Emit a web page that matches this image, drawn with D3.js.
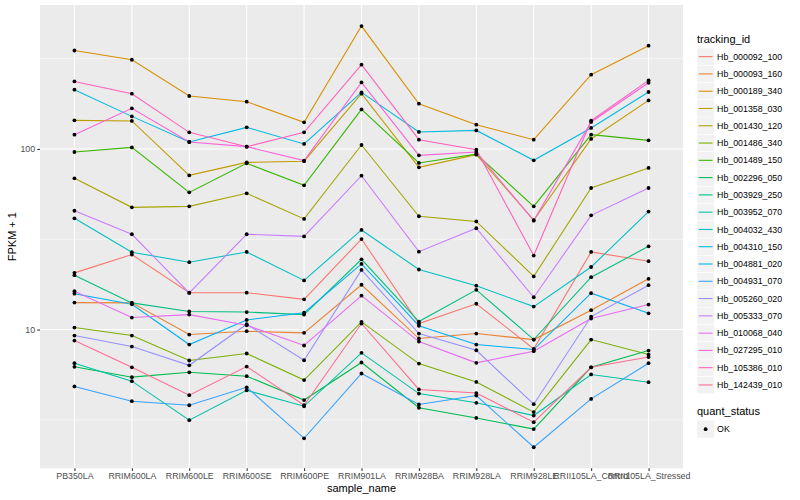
<!DOCTYPE html>
<html>
<head>
<meta charset="utf-8">
<script src="https://cdn.jsdelivr.net/npm/d3@7"></script>
<style>
  body { margin: 0; background: #fff; }
  #root { width: 800px; height: 500px; }
  text { font-family: "Liberation Sans", Arial, sans-serif; }
</style>
</head>
<body>
<div id="root"></div>
<script>
const samples = ['PB350LA', 'RRIM600LA', 'RRIM600LE', 'RRIM600SE', 'RRIM600PE',
  'RRIM901LA', 'RRIM928BA', 'RRIM928LA', 'RRIM928LE', 'RRII105LA_Control',
  'RRII105LA_Stressed'];

const trackingIds = ['Hb_000092_100', 'Hb_000093_160', 'Hb_000189_340',
  'Hb_001358_030', 'Hb_001430_120', 'Hb_001486_340', 'Hb_001489_150',
  'Hb_002296_050', 'Hb_003929_250', 'Hb_003952_070', 'Hb_004032_430',
  'Hb_004310_150', 'Hb_004881_020', 'Hb_004931_070', 'Hb_005260_020',
  'Hb_005333_070', 'Hb_010068_040', 'Hb_027295_010', 'Hb_105386_010',
  'Hb_142439_010'];

// FPKM + 1, one row per tracking id, one value per sample
const fpkmPlusOne = [
  [20.6, 26.0, 16.0, 16.0, 14.7, 31.7, 10.8, 13.9, 7.82, 26.9, 23.9],
  [14.1, 14.05, 9.38, 9.79, 9.59, 17.7, 8.92, 9.5, 8.8, 12.8, 19.1],
  [351, 312, 196.5, 182.7, 140.4, 479.3, 178.1, 136.3, 112.6, 257.8, 373],
  [144, 142.9, 71.4, 84.3, 85.6, 202.3, 79.1, 93, 40.4, 113.6, 185.8],
  [68.8, 47.5, 48.1, 56.8, 41.0, 105.2, 42.4, 39.7, 19.7, 60.8, 78.5],
  [10.26, 9.26, 6.74, 7.37, 5.25, 11.03, 6.48, 5.13, 3.49, 8.8, 7.27],
  [96.2, 102, 57.5, 83.3, 62.9, 165.6, 83.7, 93.6, 48.1, 120, 111.6],
  [6.22, 5.45, 5.8, 5.52, 4.07, 6.57, 3.69, 3.24, 2.81, 6.18, 7.65],
  [20.0, 14.05, 12.6, 12.5, 12.1, 24.5, 11.07, 16.6, 8.8, 19.5, 28.9],
  [6.51, 5.18, 3.15, 4.61, 3.76, 7.43, 4.42, 3.93, 3.34, 5.64, 5.11],
  [41.3, 26.8, 23.6, 26.9, 18.7, 35.6, 21.5, 17.5, 13.4, 22.2, 45],
  [212.9, 151.5, 109.3, 131.7, 106.6, 205.7, 124.2, 126.7, 86.5, 130.7, 206.8],
  [15.8, 13.8, 8.26, 11.3, 12.4, 23.1, 10.5, 8.26, 7.75, 15.9, 12.3],
  [4.84, 4.01, 3.81, 4.79, 2.5, 5.71, 3.85, 4.31, 2.23, 4.13, 6.51],
  [9.26, 8.05, 6.34, 10.7, 6.76, 21.4, 9.5, 7.68, 3.86, 11.8, 17.6],
  [45.5, 33.7, 15.96, 33.7, 32.8, 71.1, 27, 36.4, 15.1, 42.9, 60.8],
  [16.3, 11.65, 12.1, 10.56, 8.16, 15.4, 8.58, 6.54, 7.59, 11.5, 13.75],
  [120, 167.8, 109.3, 103, 86.2, 233.6, 92.2, 96.2, 40.1, 141.1, 232.7],
  [236.6, 202.3, 123.6, 103, 123.6, 292.8, 112.6, 99.1, 25.7, 143.4, 239.7],
  [8.69, 6.18, 4.33, 6.24, 3.81, 10.8, 4.66, 4.45, 3.07, 6.18, 7.04],
];

const yBreaks = [10, 100];
const yMinorBreaks = [Math.sqrt(10), Math.sqrt(1000), Math.sqrt(100000)];

const hueColors = ['#F8766D', '#EA8331', '#D89000', '#C09B00', '#A3A500',
  '#7CAE00', '#39B600', '#00BB4E', '#00BF7D', '#00C1A3', '#00BFC4', '#00BAE0',
  '#00B0F6', '#35A2FF', '#9590FF', '#C77CFF', '#E76BF3', '#FA62DB', '#FF62BC',
  '#FF6C91'];

doVis();

function doVis() {
  const width = 800, height = 500;
  const panel = { left: 40, top: 5, right: 683, bottom: 468.3 };

  const svg = d3.select('#root').append('svg')
    .attr('width', width)
    .attr('height', height);

  const series = trackingIds.map((id, i) => ({
    id,
    color: hueColors[i],
    values: fpkmPlusOne[i].map((v, j) => ({ sample: samples[j], value: v })),
  }));

  // discrete x with ggplot's 0.6 unit expansion
  const x = d3.scalePoint()
    .domain(samples)
    .range([panel.left, panel.right])
    .padding(0.6);

  // log y with 5% expansion of the data range
  const all = fpkmPlusOne.flat();
  const lo = Math.log10(d3.min(all)), hi = Math.log10(d3.max(all));
  const pad = (hi - lo) * 0.05;
  const y = d3.scaleLog()
    .domain([Math.pow(10, lo - pad), Math.pow(10, hi + pad)])
    .range([panel.bottom, panel.top]);

  svg.append('rect')
    .attr('x', panel.left)
    .attr('y', panel.top)
    .attr('width', panel.right - panel.left)
    .attr('height', panel.bottom - panel.top)
    .attr('fill', '#EBEBEB');

  const grid = svg.append('g');
  grid.selectAll('.minor')
    .data(yMinorBreaks)
    .enter()
    .append('line')
      .attr('x1', panel.left)
      .attr('x2', panel.right)
      .attr('y1', (d) => y(d))
      .attr('y2', (d) => y(d))
      .attr('stroke', '#fff')
      .attr('stroke-width', 0.55);
  grid.selectAll('.major')
    .data(yBreaks)
    .enter()
    .append('line')
      .attr('x1', panel.left)
      .attr('x2', panel.right)
      .attr('y1', (d) => y(d))
      .attr('y2', (d) => y(d))
      .attr('stroke', '#fff')
      .attr('stroke-width', 1.1);
  grid.selectAll('.vmajor')
    .data(samples)
    .enter()
    .append('line')
      .attr('x1', (d) => x(d))
      .attr('x2', (d) => x(d))
      .attr('y1', panel.top)
      .attr('y2', panel.bottom)
      .attr('stroke', '#fff')
      .attr('stroke-width', 1.1);

  const line = d3.line()
    .x((d) => x(d.sample))
    .y((d) => y(d.value));

  svg.append('g')
    .selectAll('path')
    .data(series)
    .enter()
    .append('path')
      .attr('d', (d) => line(d.values))
      .attr('fill', 'none')
      .attr('stroke', (d) => d.color)
      .attr('stroke-width', 1.07);

  svg.append('g')
    .selectAll('circle')
    .data(series.flatMap((s) => s.values))
    .enter()
    .append('circle')
      .attr('cx', (d) => x(d.sample))
      .attr('cy', (d) => y(d.value))
      .attr('r', 1.9)
      .attr('fill', '#000');

  // axes
  const yAxis = svg.append('g')
    .attr('transform', svgTranslateString(panel.left, 0))
    .call(d3.axisLeft(y).tickValues(yBreaks).tickFormat(d3.format('d'))
      .tickSize(2.75).tickPadding(2.2));
  const xAxis = svg.append('g')
    .attr('transform', svgTranslateString(0, panel.bottom))
    .call(d3.axisBottom(x).tickSize(2.75).tickPadding(2.2));

  [xAxis, yAxis].forEach((g) => {
    g.select('.domain').remove();
    g.selectAll('.tick line').attr('stroke', '#333').attr('stroke-width', 1.07);
    g.selectAll('.tick text')
      .attr('fill', '#4D4D4D')
      .style('font-size', '8.8px')
      .style('font-family', '"Liberation Sans", Arial, sans-serif');
  });

  svg.append('text')
    .attr('x', (panel.left + panel.right) / 2)
    .attr('y', 492)
    .attr('text-anchor', 'middle')
    .style('font-size', '11px')
    .text('sample_name');

  svg.append('text')
    .attr('transform', svgTranslateString(16, (panel.top + panel.bottom) / 2) + ' rotate(-90)')
    .attr('text-anchor', 'middle')
    .style('font-size', '11px')
    .text('FPKM + 1');

  drawLegend(svg, series);
}

function drawLegend(svg, series) {
  const lx = 697, key = 17.28, top = 48;

  svg.append('text')
    .attr('x', lx)
    .attr('y', 42.5)
    .style('font-size', '11px')
    .text('tracking_id');

  const items = svg.append('g')
    .selectAll('g')
    .data(series)
    .enter()
    .append('g')
      .attr('transform', (d, i) => svgTranslateString(lx, top + i * key));

  items.append('rect')
    .attr('width', key)
    .attr('height', key)
    .attr('fill', '#F2F2F2')
    .attr('stroke', '#fff')
    .attr('stroke-width', 0.5);
  items.append('line')
    .attr('x1', 1.7)
    .attr('x2', key - 1.7)
    .attr('y1', key / 2)
    .attr('y2', key / 2)
    .attr('stroke', (d) => d.color)
    .attr('stroke-width', 1.07);
  items.append('text')
    .attr('x', key + 2.8)
    .attr('y', key / 2)
    .attr('dy', '0.35em')
    .style('font-size', '8.8px')
    .text((d) => d.id);

  // quant_status legend
  svg.append('text')
    .attr('x', lx)
    .attr('y', 415)
    .style('font-size', '11px')
    .text('quant_status');

  const ok = svg.append('g')
    .attr('transform', svgTranslateString(lx, 420.5));
  ok.append('rect')
    .attr('width', key)
    .attr('height', key)
    .attr('fill', '#F2F2F2');
  ok.append('circle')
    .attr('cx', key / 2)
    .attr('cy', key / 2)
    .attr('r', 1.9)
    .attr('fill', '#000');
  ok.append('text')
    .attr('x', key + 2.8)
    .attr('y', key / 2)
    .attr('dy', '0.35em')
    .style('font-size', '8.8px')
    .text('OK');
}

function svgTranslateString(x, y) {
  return 'translate(' + x + ', ' + y + ')';
}
</script>
</body>
</html>
